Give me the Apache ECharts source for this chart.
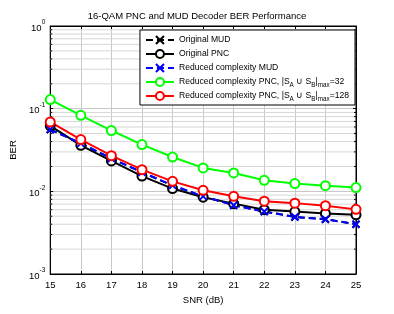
<!DOCTYPE html>
<html><head><meta charset="utf-8">
<script src="https://cdn.jsdelivr.net/npm/echarts@6/dist/echarts.min.js"></script>
<style>html,body{margin:0;padding:0;background:#fff}#c{width:394px;height:314px}</style>
</head><body><div id="c"></div>
<script>
const snr = [15,16,17,18,19,20,21,22,23,24,25];
const origMUD = [0.056,0.038,0.025,0.017,0.0118,0.0087,0.0068,0.0057,0.0049,0.0046,0.0040];
const origPNC = [0.062,0.036,0.0233,0.0153,0.0108,0.0085,0.0071,0.0060,0.0057,0.0054,0.0052];
const redMUD = [0.056,0.038,0.025,0.017,0.0118,0.0087,0.0068,0.0057,0.0049,0.0046,0.0040];
const redPNC32 = [0.129,0.083,0.0544,0.0368,0.026,0.0192,0.0167,0.0136,0.0124,0.0117,0.0111];
const redPNC128 = [0.069,0.0423,0.027,0.0183,0.0132,0.0103,0.0087,0.0076,0.0072,0.0067,0.00605];
const minorVals = [];
[0.001,0.01,0.1].forEach(d=>{for(let k=2;k<=9;k++) minorVals.push(+(d*k).toPrecision(3));});
const yLabels = {1:'0',0.1:'-1',0.01:'-2',0.001:'-3'};
const font = 'Liberation Sans, Arial, sans-serif';
const chart = echarts.init(document.getElementById('c'));
const xMark = 'path://M0,0L10,10M10,0L0,10';
function pair(a){return snr.map((x,i)=>[x,a[i]]);}
function mk(name, data, color, dashed, sym){
  return {name, type:'line', data:pair(data), symbol: sym==='x'?xMark:'emptyCircle',
    symbolSize: sym==='x'?7:9, showSymbol:true,
    lineStyle:{color, width:2, type: dashed?[7,4]:'solid'},
    itemStyle:{color:color, borderColor:color, borderWidth:2},
    emphasis:{disabled:true}, animation:false};
}
chart.setOption({
  animation:false,
  title:{text:'16-QAM PNC and MUD Decoder BER Performance', left:'center', top:6,
    textStyle:{fontFamily:font,fontSize:9.5,fontWeight:'normal',color:'#000'}},
  grid:{left:44,right:38,top:26,bottom:40,show:true,borderColor:'#000',borderWidth:1,backgroundColor:'#fff'},
  legend:{right:39, top:30, orient:'vertical', align:'left', backgroundColor:'#fff', borderColor:'#000', borderWidth:1,
    padding:[4,6,3,5], itemGap:2, itemWidth:28, itemHeight:10,
    data:['Original MUD','Original PNC','Reduced complexity MUD','R32','R128'],
    formatter: n => n==='R32' ? 'Reduced complexity PNC, |S{sub|A} \u222A S{sub|B}|{sub|max}=32'
      : n==='R128' ? 'Reduced complexity PNC, |S{sub|A} \u222A S{sub|B}|{sub|max}=128' : n,
    textStyle:{fontFamily:font,fontSize:8.6,color:'#000',lineHeight:12,
      rich:{sub:{fontFamily:font,fontSize:6.3,verticalAlign:'bottom',lineHeight:12,padding:[5,0,0,0]}}}},
  xAxis:[{type:'value',min:15,max:25,interval:1,
    name:'SNR (dB)',nameLocation:'middle',nameGap:21,nameTextStyle:{fontFamily:font,fontSize:9.5,color:'#000'},
    axisLine:{lineStyle:{color:'#000'}},axisTick:{inside:true,length:3,lineStyle:{color:'#000'}},
    axisLabel:{fontFamily:font,fontSize:9.5,color:'#000',margin:6},
    splitLine:{show:true,lineStyle:{color:'#c8c8c8',width:1}}},
   {type:'value',min:15,max:25,interval:1,position:'top',axisLine:{lineStyle:{color:'#000'}},
    axisTick:{inside:true,length:3,lineStyle:{color:'#000'}},axisLabel:{show:false},splitLine:{show:false}}],
  yAxis:[{type:'log',min:0.001,max:1,logBase:10,
    name:'BER',nameLocation:'middle',nameGap:27,nameTextStyle:{fontFamily:font,fontSize:9.5,color:'#000'},
    axisLine:{lineStyle:{color:'#000'}},axisTick:{inside:true,length:3,lineStyle:{color:'#000'}},
    axisLabel:{fontFamily:font,color:'#000',margin:5,
      formatter: v => '{b|10}{s|' + (yLabels[+v.toPrecision(3)] ?? '') + '}',
      rich:{b:{fontFamily:font,fontSize:9.5,lineHeight:14,verticalAlign:'bottom'},
            s:{fontFamily:font,fontSize:6.5,lineHeight:14,verticalAlign:'top',padding:[0,0,4,0]}}},
    splitLine:{show:true,lineStyle:{color:'#c8c8c8',width:1}}},
   {type:'log',min:0.001,max:1,logBase:10,position:'right',axisLine:{lineStyle:{color:'#000'}},
    axisTick:{inside:true,length:3,lineStyle:{color:'#000'}},axisLabel:{show:false},splitLine:{show:false}}],
  series:[
    {type:'custom', silent:true, z:1, data:minorVals.map(v=>[15,v]),
      renderItem:(p,api)=>{
        const a=api.coord([15,api.value(1)]), b=api.coord([25,api.value(1)]);
        return {type:'group',children:[
          {type:'line',shape:{x1:a[0],y1:a[1],x2:b[0],y2:b[1]},style:{stroke:'#d6d6d6',lineWidth:1}},
          {type:'line',shape:{x1:a[0],y1:a[1],x2:a[0]+2,y2:a[1]},style:{stroke:'#000',lineWidth:1}},
          {type:'line',shape:{x1:b[0]-2,y1:b[1],x2:b[0],y2:b[1]},style:{stroke:'#000',lineWidth:1}}]};
      }},
    mk('Original MUD',origMUD,'#000',true,'x'),
    mk('Original PNC',origPNC,'#000',false,'o'),
    mk('Reduced complexity MUD',redMUD,'#0000ff',true,'x'),
    mk('R32',redPNC32,'#00ff00',false,'o'),
    mk('R128',redPNC128,'#ff0000',false,'o')
  ]
});
</script></body></html>
